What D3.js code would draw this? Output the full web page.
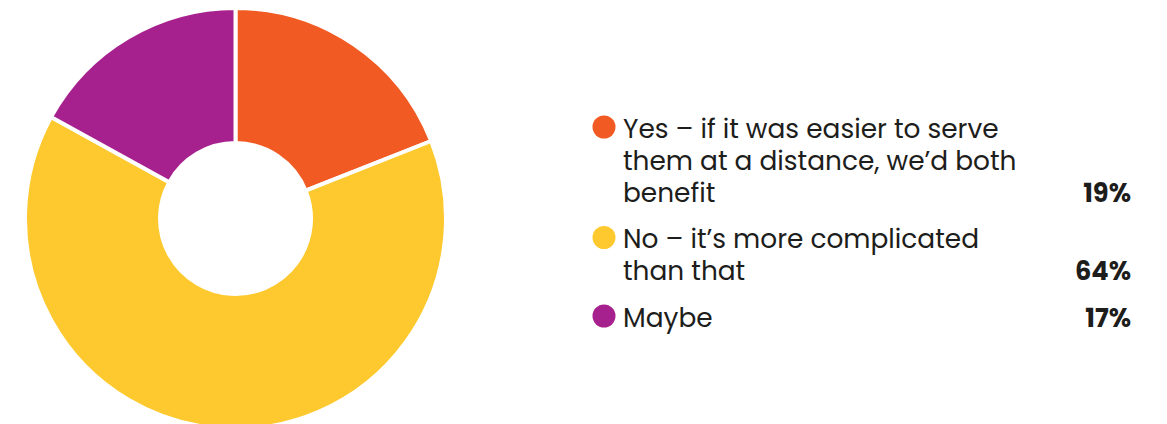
<!DOCTYPE html>
<html>
<head>
<meta charset="utf-8">
<script src="https://cdn.jsdelivr.net/npm/d3@7"></script>
<style>
  html, body { margin: 0; padding: 0; background: #ffffff; }
  svg { display: block; }
</style>
</head>
<body>
<svg id="chart" width="1167" height="424"></svg>
<script>
// Survey answers, in drawing order (clockwise from 12 o'clock)
const categories = [
  "Yes – if it was easier to serve them at a distance, we’d both benefit",
  "No – it’s more complicated than that",
  "Maybe"
];
const values = [19, 64, 17];
const valueLabels = ["19%", "64%", "17%"];
const colors = ["#F15A22", "#FDC92E", "#A6218E"];

const svg = d3.select("#chart");

// ---- donut ----
const cx = 235.5, cy = 218.5;
const gap = 4;
const arc = d3.arc()
  .innerRadius(77.5 - gap / 2)
  .outerRadius(208.5 + gap / 2);
const pie = d3.pie().sort(null).value(d => d.value);
const data = categories.map((c, i) => ({ label: c, value: values[i], color: colors[i], text: valueLabels[i] }));

svg.append("g")
  .attr("transform", `translate(${cx},${cy})`)
  .selectAll("path")
  .data(pie(data))
  .join("path")
  .attr("d", arc)
  .attr("fill", d => d.data.color)
  .attr("stroke", "#ffffff")
  .attr("stroke-width", gap)
  .attr("stroke-linejoin", "round");

// ---- legend ----
const font = "Poppins, Inter, 'Open Sans', sans-serif";
const fontSize = 26.4, pctSize = 25.7;
const textX = 623, dotX = 604, rightX = 1131;
const lineH = 32, itemGap = 46.5, wrapWidth = 405;
const legend = svg.append("g").attr("font-family", font).attr("fill", "#1d1d1b");

// break a label into lines that fit the legend column
function wrapLines(str) {
  const probe = legend.append("text").attr("font-size", fontSize).attr("x", 0).attr("y", -100);
  const words = str.split(" ");
  const lines = [];
  let cur = "";
  for (const w of words) {
    const test = cur ? cur + " " + w : w;
    probe.text(test);
    if (probe.node().getComputedTextLength() > wrapWidth && cur) {
      lines.push(cur);
      cur = w;
    } else cur = test;
  }
  if (cur) lines.push(cur);
  probe.remove();
  return lines;
}

let baseline = 137.5;
data.forEach((d, i) => {
  const lines = wrapLines(d.label);
  const g = legend.append("g");
  g.append("circle")
    .attr("cx", dotX).attr("cy", baseline - 10.5).attr("r", 11.5)
    .attr("fill", d.color);
  lines.forEach((ln, k) => {
    g.append("text")
      .attr("font-size", fontSize)
      .attr("x", textX).attr("y", baseline + k * lineH)
      .text(ln);
  });
  const last = baseline + (lines.length - 1) * lineH;
  g.append("text")
    .attr("x", rightX).attr("y", last)
    .attr("text-anchor", "end")
    .attr("font-size", pctSize).attr("font-weight", 700)
    .text(d.text);
  baseline = last + itemGap;
});
</script>
</body>
</html>
